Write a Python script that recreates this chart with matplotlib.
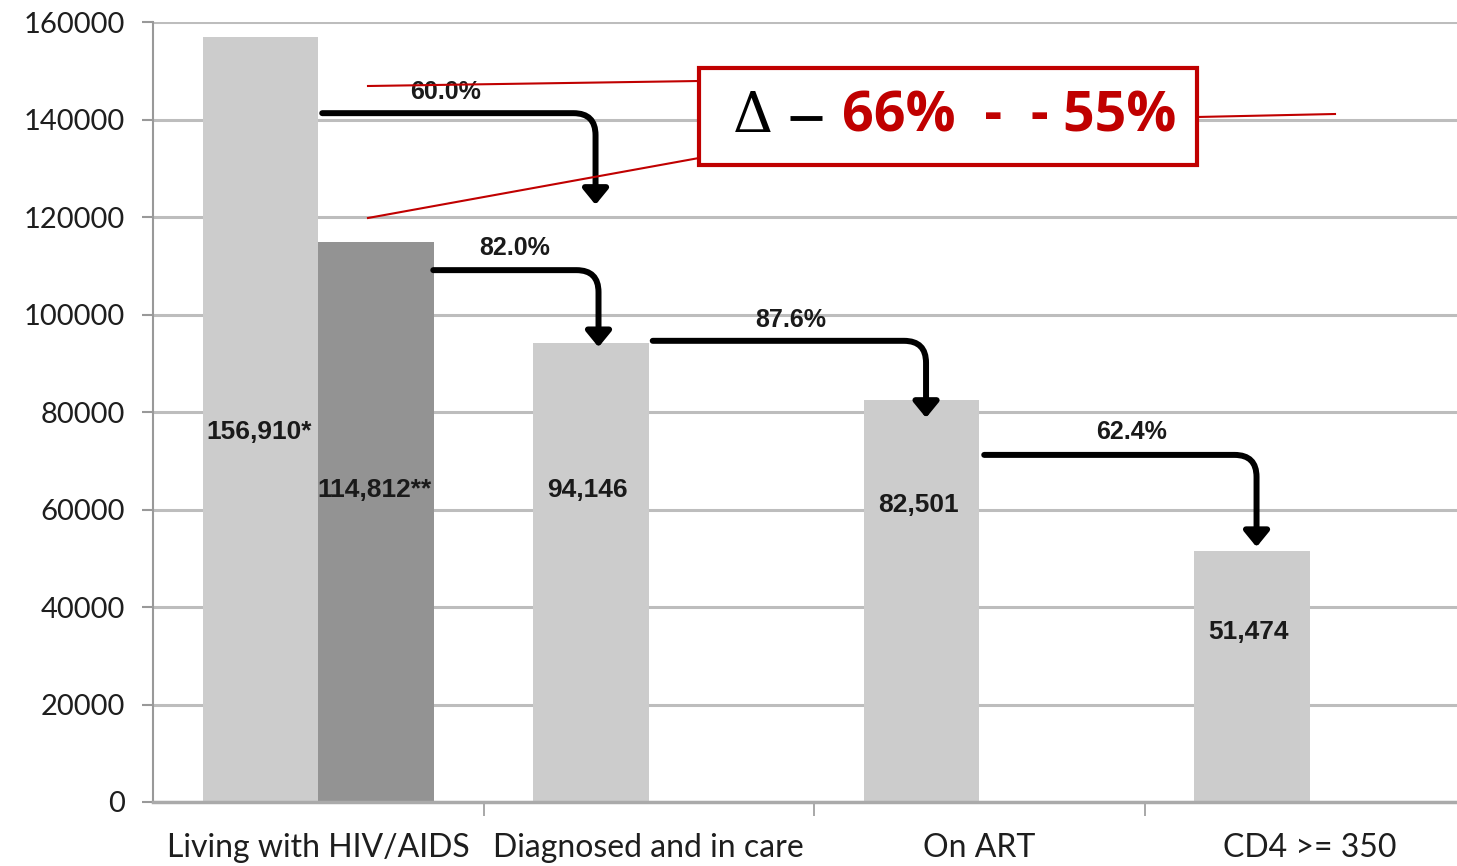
import matplotlib.pyplot as plt
from matplotlib.patches import FancyArrowPatch, Rectangle
from matplotlib.lines import Line2D
import numpy as np

# cascade of care, two estimates for people living with HIV
categories = ['Living with HIV/AIDS', 'Diagnosed and in care', 'On ART', 'CD4 >= 350']
series_a = [156910, 94146, 82501, 51474]
series_b = [114812, None, None, None]
value_labels_a = ['156,910*', '94,146', '82,501', '51,474']
value_labels_b = ['114,812**', '', '', '']

# step percentages from one stage to the next
steps = [(series_a[0], series_a[1]), (series_b[0], series_a[1]),
         (series_a[1], series_a[2]), (series_a[2], series_a[3])]

light = '#cccccc'
dark = '#939393'
grid_col = '#bdbdbd'
red = '#c00000'

W, H = 1457, 866
fig = plt.figure(figsize=(W / 100, H / 100), dpi=100)
ax = fig.add_axes([153 / W, 64 / H, (1475 - 153) / W, 780 / H])

x = np.arange(len(categories))
bw = 0.35
ax.bar(x - bw / 2, series_a, width=bw, color=light, zorder=2)
b_vals = [v if v is not None else 0 for v in series_b]
ax.bar(x + bw / 2, b_vals, width=bw, color=dark, zorder=2)

ax.set_xlim(-0.5, 3.5)
ax.set_ylim(0, 160000)
ax.set_yticks(np.arange(0, 160001, 20000))
ax.set_yticklabels([str(v) for v in range(0, 160001, 20000)],
                   family=['Lato', 'DejaVu Sans'], fontsize=21, color='#1e1e1e')
ax.grid(axis='y', color=grid_col, lw=2.2, zorder=0)
ax.set_axisbelow(True)

ax.set_xticks(x)
ax.set_xticklabels(categories, family=['Lato', 'DejaVu Sans'],
                   fontsize=23, color='#1e1e1e')
ax.tick_params(axis='x', length=0, pad=22)
ax.set_xticks([0.5, 1.5, 2.5], minor=True)
ax.tick_params(axis='x', which='minor', length=10, width=1.2, color='#999999')
ax.tick_params(axis='y', length=8, width=1.5, color='#999999', pad=12)

for s in ['top', 'right']:
    ax.spines[s].set_visible(False)
ax.spines['left'].set_color('#999999')
ax.spines['left'].set_linewidth(1.5)
ax.spines['bottom'].set_color('#aaaaaa')
ax.spines['bottom'].set_linewidth(2.5)

# value labels inside the bars
label_y_a = [76000, 64000, 61000, 34900]
label_y_b = [64000]
lab_font = dict(family=['Liberation Sans', 'DejaVu Sans'], fontsize=19,
                fontweight='bold', color='#1a1a1a', ha='center', va='center', zorder=4)
for i, (t, yy) in enumerate(zip(value_labels_a, label_y_a)):
    ax.text(x[i] - bw / 2 - (0.005 if i == 0 else 0.01), yy, t, **lab_font)
ax.text(x[0] + bw / 2 - 0.005, label_y_b[0], value_labels_b[0], **lab_font)

# elbow arrows between stages
arrows = [  # (x start, x end, y start, y end, label x, label y)
    (0.012, 0.839, 141300, 122500, 0.385, 145600),
    (0.348, 0.848, 109100, 93300, 0.594, 113600),
    (1.012, 1.839, 94600, 78800, 1.430, 98900),
    (2.015, 2.839, 71200, 52300, 2.461, 75900),
]
for (num_den, a) in zip(steps, arrows):
    x0, x1, y0, y1, lx, ly = a
    arr = FancyArrowPatch((x0, y0), (x1, y1),
                          connectionstyle='angle,angleA=0,angleB=90,rad=22',
                          arrowstyle='-|>,head_length=0.55,head_width=0.45',
                          mutation_scale=17, lw=4.3, color='black',
                          shrinkA=0, shrinkB=0, zorder=5)
    ax.add_patch(arr)
    pct = num_den[1] / num_den[0] * 100
    ax.text(lx, ly, f'{pct:.1f}%', family=['Liberation Sans', 'DejaVu Sans'],
            fontsize=18, fontweight='bold', color='#1a1a1a',
            ha='center', va='center', zorder=6)


# red callout box, drawn in figure pixels
def fx(px):
    return px / W


def fy(py):
    return 1 - py / H


for (p0, p1) in [((368, 86), (699, 81)), ((368, 218), (699, 158)),
                 ((1197, 117), (1335, 114))]:
    fig.add_artist(Line2D([fx(p0[0]), fx(p1[0])], [fy(p0[1]), fy(p1[1])],
                          color=red, lw=1.5, zorder=7))
box = Rectangle((fx(699), fy(165)), fx(1197) - fx(699), fy(68) - fy(165),
                transform=fig.transFigure, facecolor='white', edgecolor=red,
                lw=3, zorder=8)
fig.add_artist(box)
fig.text(fx(733), fy(117), '\u0394', family=['DejaVu Serif'], fontsize=40,
         color='black', ha='left', va='center', zorder=9)
fig.add_artist(Line2D([fx(790), fx(822)], [fy(118), fy(118)], color='black',
                      lw=3.5, solid_capstyle='butt', zorder=9))
fig.text(fx(842), fy(117), '66%  -  - 55%', family=['Open Sans', 'DejaVu Sans'],
         fontsize=40, fontweight='bold', fontstyle='normal', color=red,
         ha='left', va='center', zorder=9)

fig.savefig('out.png', dpi=100, facecolor='white')
